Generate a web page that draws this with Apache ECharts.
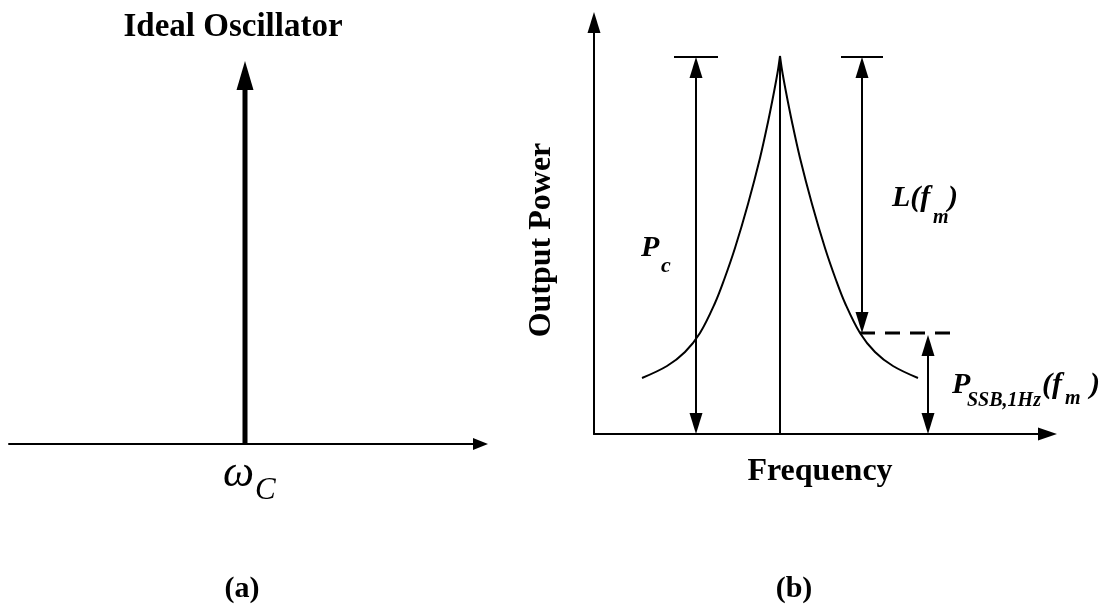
<!DOCTYPE html>
<html><head><meta charset="utf-8">
<script src="https://cdn.jsdelivr.net/npm/echarts@6/dist/echarts.min.js"></script>
<style>html,body{margin:0;padding:0;background:#fff}#chart{width:1105px;height:608px}</style>
</head><body><div id="chart"></div>
<script>
// ---------- Panel (a): ideal oscillator ----------
const idealCarrierFreq = 0;      // ω_C
const idealCarrierPower = 383;   // impulse height

// ---------- Panel (b): real oscillator spectrum ----------
const spectrumLeftFreq   = [-138, -113, -95, -80, -65, -56, -45, -32, -20, -12, -6, -2, 0];
const spectrumLeftPower  = [56, 68, 82, 101, 131, 154, 186, 230, 276, 312, 342, 364, 378];
const spectrumRightFreq  = [0, 2, 6, 12, 20, 32, 45, 56, 65, 80, 95, 113, 138];
const spectrumRightPower = [378, 364, 342, 312, 276, 230, 186, 154, 131, 101, 82, 68, 56];
const carrierFreq = 0;
const carrierPower = 378;   // P_c level
const offsetFreq = 82;      // f_m
const noisePower = 101;     // P_SSB,1Hz(f_m) level

// ---------- annotation placement (data units) ----------
const pcMarkerFreq = -84;
const pssbMarkerFreq = 148;
const noiseLineEnd = 177;

const FONT = "'Liberation Serif','Times New Roman',serif";
const INK = '#000';

function makeArrowRenderer(segs) {
  return function (params, api) {
    const s = segs[params.dataIndex];
    const p1 = api.coord([s.x1, s.y1]);
    const p2 = api.coord([s.x2, s.y2]);
    const dx = p2[0] - p1[0], dy = p2[1] - p1[1];
    const len = Math.hypot(dx, dy) || 1;
    const ux = dx / len, uy = dy / len;
    let a = p1.slice(), b = p2.slice();
    const hw = s.headW || 13, hl = s.headL || 21;
    const children = [];
    function head(tip, dx0, dy0) {
      const bx = tip[0] - dx0 * hl, by = tip[1] - dy0 * hl;
      const nx = -dy0 * hw / 2, ny = dx0 * hw / 2;
      return { type: 'polygon', shape: { points: [[tip[0], tip[1]], [bx + nx, by + ny], [bx - nx, by - ny]] },
               style: { fill: INK } };
    }
    if (s.start) { children.push(head(p1, -ux, -uy)); a = [p1[0] + ux * (hl - 1), p1[1] + uy * (hl - 1)]; }
    if (s.end) { children.push(head(p2, ux, uy)); b = [p2[0] - ux * (hl - 1), p2[1] - uy * (hl - 1)]; }
    children.unshift({ type: 'line', shape: { x1: a[0], y1: a[1], x2: b[0], y2: b[1] },
      style: { stroke: INK, lineWidth: s.width || 2, lineDash: s.dash || null, lineCap: 'butt' } });
    return { type: 'group', children: children };
  };
}

const leftSegs = [
  { x1: idealCarrierFreq, y1: 0, x2: idealCarrierFreq, y2: idealCarrierPower, end: true, width: 5, headW: 17, headL: 29 }
];
const rightSegs = [
  { x1: carrierFreq, y1: 0, x2: carrierFreq, y2: carrierPower, width: 2 },
  { x1: pcMarkerFreq, y1: 0, x2: pcMarkerFreq, y2: carrierPower - 1, start: true, end: true },
  { x1: pcMarkerFreq - 22, y1: carrierPower - 1, x2: pcMarkerFreq + 22, y2: carrierPower - 1, width: 2 },
  { x1: offsetFreq, y1: noisePower, x2: offsetFreq, y2: carrierPower - 1, start: true, end: true },
  { x1: offsetFreq - 21, y1: carrierPower - 1, x2: offsetFreq + 21, y2: carrierPower - 1, width: 2 },
  { x1: offsetFreq - 2, y1: noisePower, x2: noiseLineEnd, y2: noisePower, width: 3, dash: [15, 10] },
  { x1: pssbMarkerFreq, y1: 0, x2: pssbMarkerFreq, y2: noisePower - 2, start: true, end: true }
];

function txt(x, y, text, font, align, extra) {
  return Object.assign({ type: 'text', x: x, y: y, silent: true,
    style: { text: text, font: font + ' ' + FONT, fill: INK, align: align || 'left', verticalAlign: 'middle',
             textAlign: align || 'left', textVerticalAlign: 'middle' } }, extra || {});
}

const chart = echarts.init(document.getElementById('chart'), null, { renderer: 'canvas' });
chart.setOption({
  animation: false,
  backgroundColor: '#fff',
  grid: [
    { left: 9, right: 624.5, top: 44, bottom: 164 },
    { left: 594, right: 57.5, top: 22.5, bottom: 174 }
  ],
  xAxis: [
    { gridIndex: 0, type: 'value', min: -236, max: 235.5,
      axisLine: { show: true, symbol: ['none', 'triangle'], symbolSize: [12, 15], lineStyle: { color: INK, width: 2 } },
      axisTick: { show: false }, axisLabel: { show: false }, splitLine: { show: false } },
    { gridIndex: 1, type: 'value', min: -186, max: 267.5,
      axisLine: { show: true, onZero: false, symbol: ['none', 'triangle'], symbolSize: [13, 19], lineStyle: { color: INK, width: 2 } },
      axisTick: { show: false }, axisLabel: { show: false }, splitLine: { show: false } }
  ],
  yAxis: [
    { gridIndex: 0, type: 'value', min: 0, max: 400, show: false },
    { gridIndex: 1, type: 'value', min: 0, max: 411.5,
      axisLine: { show: true, onZero: false, symbol: ['none', 'triangle'], symbolSize: [13, 21], lineStyle: { color: INK, width: 2 } },
      axisTick: { show: false }, axisLabel: { show: false }, splitLine: { show: false } }
  ],
  series: [
    { type: 'custom', xAxisIndex: 0, yAxisIndex: 0, renderItem: makeArrowRenderer(leftSegs),
      data: leftSegs.map(s => [s.x1, s.y1, s.x2, s.y2]), encode: { x: [0, 2], y: [1, 3] }, silent: true },
    { type: 'line', xAxisIndex: 1, yAxisIndex: 1, showSymbol: false, smooth: 0.35, silent: true,
      lineStyle: { color: INK, width: 2 },
      data: spectrumLeftFreq.map((f, i) => [f, spectrumLeftPower[i]]) },
    { type: 'line', xAxisIndex: 1, yAxisIndex: 1, showSymbol: false, smooth: 0.35, silent: true,
      lineStyle: { color: INK, width: 2 },
      data: spectrumRightFreq.map((f, i) => [f, spectrumRightPower[i]]) },
    { type: 'custom', xAxisIndex: 1, yAxisIndex: 1, renderItem: makeArrowRenderer(rightSegs),
      data: rightSegs.map(s => [s.x1, s.y1, s.x2, s.y2]), encode: { x: [0, 2], y: [1, 3] }, silent: true }
  ],
  graphic: [
    txt(233, 27, 'Ideal Oscillator', 'bold 33px', 'center'),
    txt(223, 474, 'ω', 'italic 44px', 'left'),
    txt(255, 491, 'C', 'italic 31px', 'left'),
    txt(820, 472, 'Frequency', 'bold 32px', 'center'),
    txt(542, 240, 'Output Power', 'bold 32px', 'center', { rotation: Math.PI / 2 }),
    txt(641, 248, 'P', 'italic bold 30px', 'left'),
    txt(661, 266, 'c', 'italic bold 22px', 'left'),
    txt(892, 198, 'L(f', 'italic bold 30px', 'left'),
    txt(933, 218, 'm', 'italic bold 20px', 'left'),
    txt(948, 198, ')', 'italic bold 30px', 'left'),
    txt(952, 385, 'P', 'italic bold 30px', 'left'),
    txt(967, 401, 'SSB,1Hz', 'italic bold 20px', 'left'),
    txt(1042, 385, '(f', 'italic bold 30px', 'left'),
    txt(1065, 399, 'm', 'italic bold 20px', 'left'),
    txt(1090, 385, ')', 'italic bold 30px', 'left'),
    txt(242, 589, '(a)', 'bold 30px', 'center'),
    txt(794, 589, '(b)', 'bold 30px', 'center')
  ]
});
</script></body></html>
